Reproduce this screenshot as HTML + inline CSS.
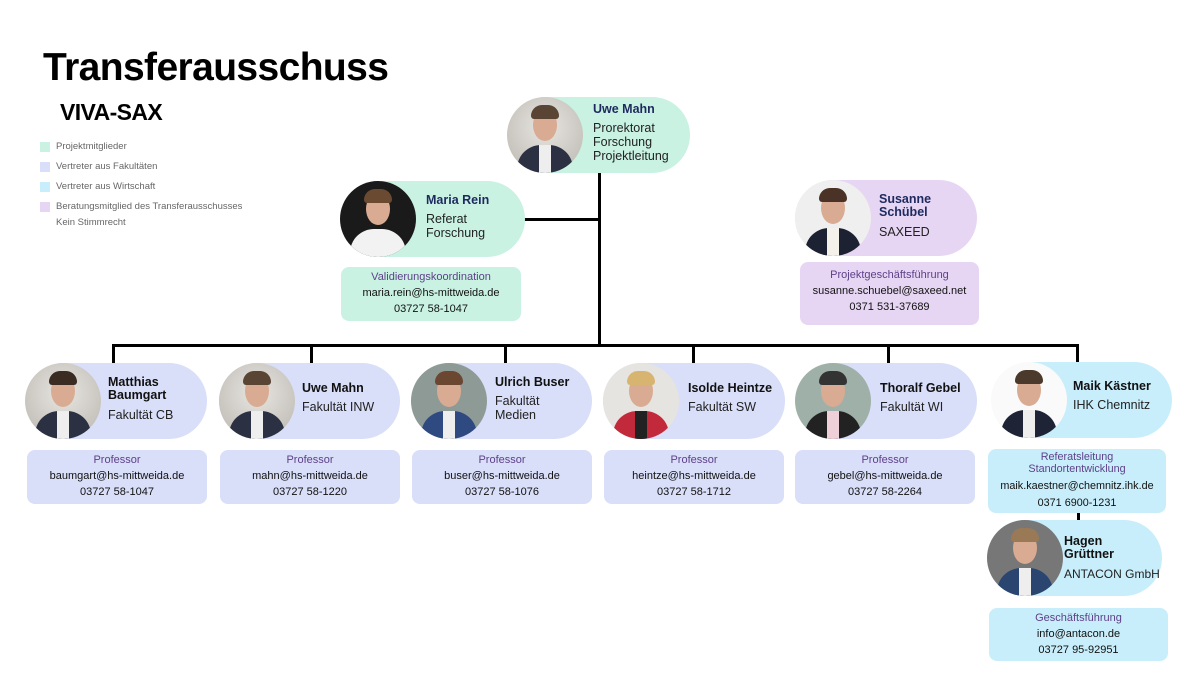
<!DOCTYPE html>
<html><head><meta charset="utf-8"><style>
*{margin:0;padding:0;box-sizing:border-box}
body{width:1200px;height:675px;background:#fff;position:relative;overflow:hidden;font-family:"Liberation Sans","DejaVu Sans",sans-serif}
.a{position:absolute}
.pill{position:absolute;height:76px;border-radius:38px}
.ph{position:absolute;width:76px;height:76px;border-radius:50%;overflow:hidden;background:radial-gradient(circle at 50% 40%,#e8e6e2,#b9b5ae)}
.ph .hd{position:absolute;left:26px;top:12px;width:24px;height:32px;border-radius:50%;background:#d9ab92}
.ph .hr{position:absolute;left:24px;top:8px;width:28px;height:14px;border-radius:14px 14px 4px 4px;background:#5a4434}
.ph .bd{position:absolute;left:10px;top:48px;width:56px;height:40px;border-radius:24px 24px 0 0;background:#2b3142}
.ph .sh{position:absolute;left:32px;top:48px;width:12px;height:30px;background:#eee}
.tx{position:absolute;font-size:12.5px;line-height:14px;color:#222}
.nm{font-weight:bold;font-size:12.5px;color:#111;margin-bottom:5px;line-height:13px}
.nv{color:#1e2a5e}
.box{position:absolute;border-radius:8px;text-align:center;font-size:11px;line-height:16px;color:#111;padding-top:2px}
.box .t{color:#5e4189}
.ln{position:absolute;background:#000}
.lg{position:absolute;left:40px;width:10px;height:10px}
.lt{position:absolute;left:56px;font-size:9.5px;color:#666}
.m{background:#c9f2e3}.b{background:#d9def9}.c{background:#c8eefb}.p{background:#e6d6f3}
</style></head><body>
<div class="a" style="left:43px;top:46px;font-size:39px;font-weight:bold;color:#000;letter-spacing:-0.6px">Transferausschuss</div>
<div class="a" style="left:60px;top:99px;font-size:23px;font-weight:bold;color:#000;letter-spacing:-0.6px">VIVA-SAX</div>
<div class="lg m" style="top:142px"></div><div class="lt" style="top:141px">Projektmitglieder</div>
<div class="lg b" style="top:162px"></div><div class="lt" style="top:161px">Vertreter aus Fakultäten</div>
<div class="lg c" style="top:182px"></div><div class="lt" style="top:181px">Vertreter aus Wirtschaft</div>
<div class="lg p" style="top:202px"></div><div class="lt" style="top:201px">Beratungsmitglied des Transferausschusses</div>
<div class="lt" style="top:217px">Kein Stimmrecht</div>

<!-- lines -->
<div class="ln" style="left:598px;top:172px;width:3px;height:175px"></div>
<div class="ln" style="left:524px;top:218px;width:76px;height:3px"></div>
<div class="ln" style="left:112px;top:344px;width:967px;height:3px"></div>
<div class="ln" style="left:112px;top:344px;width:3px;height:20px"></div>
<div class="ln" style="left:310px;top:344px;width:3px;height:20px"></div>
<div class="ln" style="left:504px;top:344px;width:3px;height:20px"></div>
<div class="ln" style="left:692px;top:344px;width:3px;height:20px"></div>
<div class="ln" style="left:887px;top:344px;width:3px;height:20px"></div>
<div class="ln" style="left:1076px;top:344px;width:3px;height:20px"></div>
<div class="ln" style="left:1077px;top:512px;width:3px;height:9px"></div>

<!-- Uwe Mahn top -->
<div class="pill m" style="left:508px;top:97px;width:182px"></div>
<div class="ph" style="left:507px;top:97px"><div class="bd"></div><div class="sh"></div><div class="hd"></div><div class="hr"></div></div>
<div class="tx" style="left:593px;top:103px"><div class="nm nv">Uwe Mahn</div>Prorektorat<br>Forschung<br>Projektleitung</div>

<!-- Maria -->
<div class="pill m" style="left:341px;top:181px;width:184px"></div>
<div class="ph" style="left:340px;top:181px;background:#1a1a1a"><div class="bd" style="background:#f2f2f2"></div><div class="hd"></div><div class="hr" style="background:#6b4a32"></div></div>
<div class="tx" style="left:426px;top:194px"><div class="nm nv">Maria Rein</div>Referat<br>Forschung</div>
<div class="box m" style="left:341px;top:267px;width:180px;height:54px"><div class="t">Validierungskoordination</div>maria.rein@hs-mittweida.de<br>03727 58-1047</div>

<!-- Susanne -->
<div class="pill p" style="left:795px;top:180px;width:182px"></div>
<div class="ph" style="left:795px;top:180px;background:#efefef"><div class="bd" style="background:#1d2233"></div><div class="sh" style="background:#f4f0ea"></div><div class="hd"></div><div class="hr" style="background:#4a3326"></div></div>
<div class="tx" style="left:879px;top:193px"><div class="nm nv" style="margin-bottom:6px">Susanne<br>Schübel</div>SAXEED</div>
<div class="box p" style="left:800px;top:262px;width:179px;height:63px;padding-top:5px"><div class="t">Projektgeschäftsführung</div>susanne.schuebel@saxeed.net<br>0371 531-37689</div>

<!-- bottom row -->
<div class="pill b" style="left:26px;top:363px;width:181px"></div>
<div class="ph" style="left:25px;top:363px"><div class="bd"></div><div class="sh"></div><div class="hd"></div><div class="hr" style="background:#3a2c22"></div></div>
<div class="tx" style="left:108px;top:376px"><div class="nm" style="margin-bottom:6px">Matthias<br>Baumgart</div>Fakultät CB</div>
<div class="box b" style="left:27px;top:450px;width:180px;height:54px"><div class="t">Professor</div>baumgart@hs-mittweida.de<br>03727 58-1047</div>

<div class="pill b" style="left:219px;top:363px;width:181px"></div>
<div class="ph" style="left:219px;top:363px"><div class="bd"></div><div class="sh"></div><div class="hd"></div><div class="hr"></div></div>
<div class="tx" style="left:302px;top:382px"><div class="nm">Uwe Mahn</div>Fakultät INW</div>
<div class="box b" style="left:220px;top:450px;width:180px;height:54px"><div class="t">Professor</div>mahn@hs-mittweida.de<br>03727 58-1220</div>

<div class="pill b" style="left:411px;top:363px;width:181px"></div>
<div class="ph" style="left:411px;top:363px;background:#8e9a96"><div class="bd" style="background:#2f4a80"></div><div class="sh"></div><div class="hd"></div><div class="hr" style="background:#6b4630"></div></div>
<div class="tx" style="left:495px;top:376px"><div class="nm">Ulrich Buser</div>Fakultät<br>Medien</div>
<div class="box b" style="left:412px;top:450px;width:180px;height:54px"><div class="t">Professor</div>buser@hs-mittweida.de<br>03727 58-1076</div>

<div class="pill b" style="left:603px;top:363px;width:182px"></div>
<div class="ph" style="left:603px;top:363px;background:#e6e4e0"><div class="bd" style="background:#c22a3c"></div><div class="sh" style="background:#222"></div><div class="hd"></div><div class="hr" style="background:#d7b570"></div></div>
<div class="tx" style="left:688px;top:382px"><div class="nm">Isolde Heintze</div>Fakultät SW</div>
<div class="box b" style="left:604px;top:450px;width:180px;height:54px"><div class="t">Professor</div>heintze@hs-mittweida.de<br>03727 58-1712</div>

<div class="pill b" style="left:796px;top:363px;width:181px"></div>
<div class="ph" style="left:795px;top:363px;background:#9fb0a8"><div class="bd" style="background:#222"></div><div class="sh" style="background:#f0d0d8"></div><div class="hd"></div><div class="hr" style="background:#333"></div></div>
<div class="tx" style="left:880px;top:382px"><div class="nm">Thoralf Gebel</div>Fakultät WI</div>
<div class="box b" style="left:795px;top:450px;width:180px;height:54px"><div class="t">Professor</div>gebel@hs-mittweida.de<br>03727 58-2264</div>

<div class="pill c" style="left:996px;top:362px;width:176px"></div>
<div class="ph" style="left:991px;top:362px;background:#fafafa"><div class="bd" style="background:#1e2436"></div><div class="sh"></div><div class="hd"></div><div class="hr" style="background:#4b3a2c"></div></div>
<div class="tx" style="left:1073px;top:380px"><div class="nm">Maik Kästner</div>IHK Chemnitz</div>
<div class="box c" style="left:988px;top:449px;width:178px;height:64px;line-height:15px;font-size:10.8px"><div class="t" style="line-height:12px">Referatsleitung<br>Standortentwicklung</div><div style="margin-top:3px;line-height:17px">maik.kaestner@chemnitz.ihk.de<br>0371 6900-1231</div></div>

<div class="pill c" style="left:987px;top:520px;width:175px"></div>
<div class="ph" style="left:987px;top:520px;background:#777"><div class="bd" style="background:#2a4670"></div><div class="sh"></div><div class="hd"></div><div class="hr" style="background:#9a7a56"></div></div>
<div class="tx" style="left:1064px;top:535px;font-size:12px"><div class="nm" style="margin-bottom:6px">Hagen<br>Grüttner</div>ANTACON GmbH</div>
<div class="box c" style="left:989px;top:608px;width:179px;height:53px"><div class="t">Geschäftsführung</div>info@antacon.de<br>03727 95-92951</div>
</body></html>
